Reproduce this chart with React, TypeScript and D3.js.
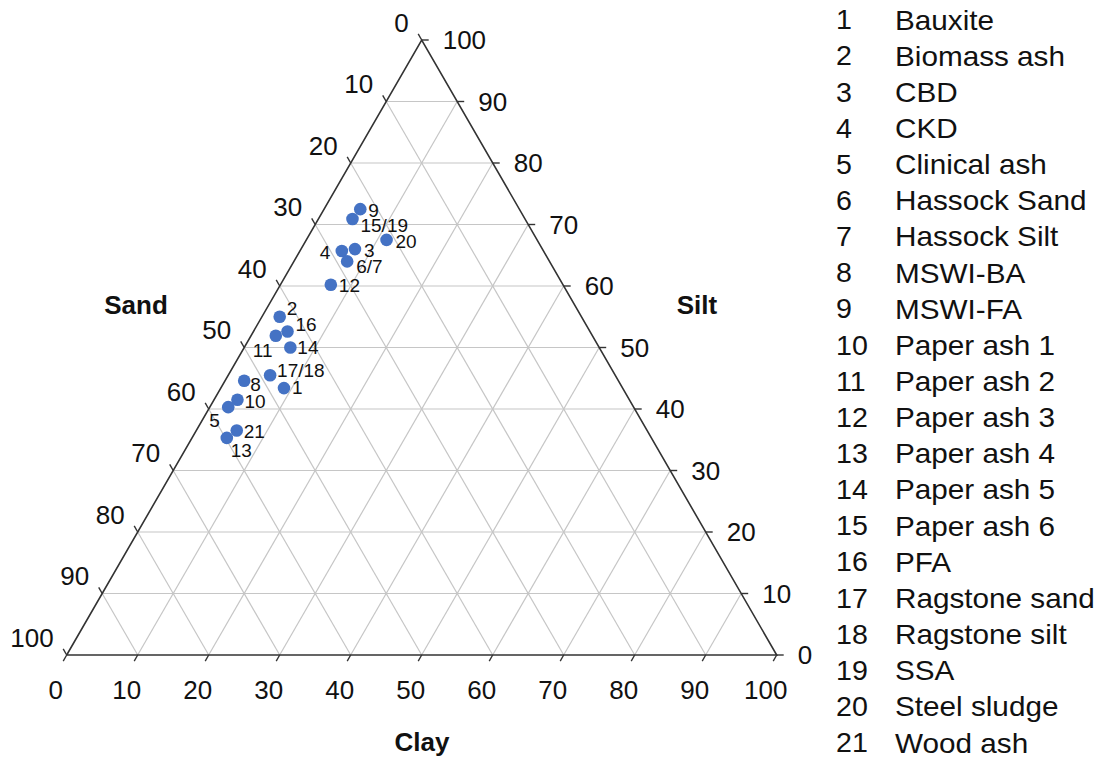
import React from "react";
import * as d3 from "d3";

// ---- Data ----
const tickValues = [0, 10, 20, 30, 40, 50, 60, 70, 80, 90, 100];

const legendNumbers = ["1","2","3","4","5","6","7","8","9","10","11","12","13","14","15","16","17","18","19","20","21"];
const legendNames = [
  "Bauxite","Biomass ash","CBD","CKD","Clinical ash","Hassock Sand","Hassock Silt",
  "MSWI-BA","MSWI-FA","Paper ash 1","Paper ash 2","Paper ash 3","Paper ash 4",
  "Paper ash 5","Paper ash 6","PFA","Ragstone sand","Ragstone silt","SSA",
  "Steel sludge","Wood ash",
];

// plotted points (label, clay %, silt %); sand = 100 - clay - silt
const pointLabels = ["9","15/19","20","3","4","6/7","12","2","16","11","14","17/18","8","1","10","5","21","13"];
const pointClay =   [5.1, 4.8, 11.3, 7.6, 5.9, 7.5, 7.1, 2.5, 4.8, 3.5, 6.5, 5.9, 2.7, 8.9, 3.3, 2.6, 5.7, 4.9];
const pointSilt =   [72.5, 70.9, 67.5, 66.0, 65.7, 64.0, 60.2, 55.0, 52.6, 51.9, 50.0, 45.5, 44.6, 43.4, 41.5, 40.3, 36.5, 35.3];

// label offsets (px) relative to the dot
const labelDx = [8, 8, 9, 9, -22, 9, 8, 7, 8, -23, 7, 7, 6, 8, 7, -19, 7, 4];
const labelDy = [1, 7, 2, 1, 2, 5, 1, -8, -7, 15, 0, -5, 4, -1, 2, 13, 1, 13];

const FONT = "'Liberation Sans', Arial, Helvetica, sans-serif";

export default function App() {
  const x0 = 66.7, x1 = 776.7, yBase = 655, yTop = 40;
  // horizontal position along the base (clay + silt/2), vertical by silt
  const xs = d3.scaleLinear().domain([0, 100]).range([x0, x1]);
  const ys = d3.scaleLinear().domain([0, 100]).range([yBase, yTop]);
  const P = (clay: number, silt: number) => [xs(clay + silt / 2), ys(silt)] as [number, number];

  const grid: [number, number][][] = [];
  for (const v of tickValues.slice(1, -1)) {
    grid.push([P(0, v), P(100 - v, v)]); // silt = v
    grid.push([P(v, 0), P(v, 100 - v)]); // clay = v
    grid.push([P(100 - v, 0), P(0, 100 - v)]); // sand = v
  }
  const line = d3.line();
  const TL = 7;

  const tri = [P(0, 0), P(100, 0), P(0, 100), P(0, 0)] as [number, number][];

  return (
    <svg width={1109} height={758} style={{ position: "absolute", left: 0, top: 0, background: "#fff" }} fontFamily={FONT}>
      {grid.map((g, i) => (
        <path key={"g" + i} d={line(g) || ""} stroke="#c6c6c6" strokeWidth={1.2} fill="none" />
      ))}
      <path d={line(tri) || ""} stroke="#333" strokeWidth={1.6} fill="none" strokeLinejoin="miter" />

      {/* ticks and labels */}
      {tickValues.map((v) => {
        // Sand axis (left edge): sand = v, clay = 0, silt = 100 - v
        const [lx, ly] = P(0, 100 - v);
        // Clay axis (bottom): clay = v, silt = 0
        const [bx, by] = P(v, 0);
        // Silt axis (right): sand = 0, silt = v, clay = 100 - v
        const [rx, ry] = P(100 - v, v);
        return (
          <g key={"t" + v}>
            <line x1={lx} y1={ly} x2={lx - TL * 0.5} y2={ly - TL * 0.866} stroke="#333" strokeWidth={1.4} />
            <text x={lx - 13} y={ly - 17.5} textAnchor="end" dominantBaseline="central" fontSize={26} fill="#111">{v}</text>
            <line x1={bx} y1={by} x2={bx - TL * 0.5} y2={by + TL * 0.866} stroke="#333" strokeWidth={1.4} />
            <text x={bx - 11} y={by + 35} textAnchor="middle" dominantBaseline="central" fontSize={26} fill="#111">{v}</text>
            <line x1={rx} y1={ry} x2={rx + TL} y2={ry} stroke="#333" strokeWidth={1.4} />
            <text x={rx + 21} y={ry} textAnchor="start" dominantBaseline="central" fontSize={26} fill="#111">{v}</text>
          </g>
        );
      })}

      {/* axis titles */}
      <text x={136} y={305} textAnchor="middle" dominantBaseline="central" fontSize={26} fontWeight="bold" fill="#111">Sand</text>
      <text x={697} y={305} textAnchor="middle" dominantBaseline="central" fontSize={26} fontWeight="bold" fill="#111">Silt</text>
      <text x={422} y={742} textAnchor="middle" dominantBaseline="central" fontSize={26} fontWeight="bold" fill="#111">Clay</text>

      {/* points */}
      {pointLabels.map((lab, i) => {
        const [px, py] = P(pointClay[i], pointSilt[i]);
        return (
          <g key={"p" + i}>
            <circle cx={px} cy={py} r={6.3} fill="#4472C4" />
            <text x={px + labelDx[i]} y={py + labelDy[i]} dominantBaseline="central" fontSize={19} fill="#111">{lab}</text>
          </g>
        );
      })}

      {/* legend */}
      {legendNumbers.map((n, i) => {
        const y = 20 + i * 36.15;
        return (
          <g key={"l" + i}>
            <text transform={`translate(836,${y}) scale(1.06,1)`} dominantBaseline="central" fontSize={27} fill="#111">{n}</text>
            <text transform={`translate(895,${y}) scale(1.1,1)`} dominantBaseline="central" fontSize={27} fill="#111">{legendNames[i]}</text>
          </g>
        );
      })}
    </svg>
  );
}
